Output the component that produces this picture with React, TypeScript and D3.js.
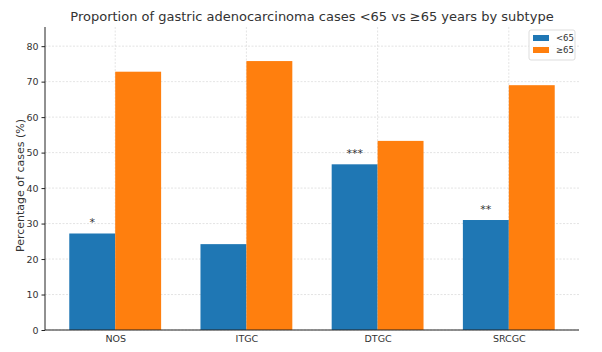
import { useEffect, useRef } from "react"
import * as d3 from "d3"

const subtypes = ["NOS", "ITGC", "DTGC", "SRCGC"]
const under65 = [27.2, 24.2, 46.7, 31.0]
const over65 = [72.8, 75.8, 53.3, 69.0]
const stars = ["*", "", "***", "**"]
const yTicks = [0, 10, 20, 30, 40, 50, 60, 70, 80]
const seriesNames = ["<65", "≥65"]

const W = 602
const H = 352
const margin = { top: 27, right: 23, bottom: 22, left: 45 }
const font = "DejaVu Sans, sans-serif"
const BLUE = "#1f77b4"
const ORANGE = "#ff7f0e"

export default function App() {
  const svgRef = useRef<SVGSVGElement>(null)

  useEffect(() => {
    if (!svgRef.current) return
    const svg = d3.select(svgRef.current)
    svg.selectAll("*").remove()

    const width = W - margin.left - margin.right
    const height = H - margin.top - margin.bottom
    const g = svg.append("g").attr("transform", `translate(${margin.left},${margin.top})`)

    // matplotlib-style x: positions 0..3, bar width 0.35
    const barW = 0.35
    const x = d3.scaleLinear().domain([-0.535, 3.535]).range([0, width])
    const y = d3.scaleLinear().domain([0, 85.4]).range([height, 0])

    // grid
    g.selectAll("line.hgrid")
      .data(yTicks)
      .enter()
      .append("line")
      .attr("x1", 0)
      .attr("x2", width)
      .attr("y1", (d) => y(d))
      .attr("y2", (d) => y(d))
      .attr("stroke", "#d8d8d8")
      .attr("stroke-width", 0.7)
      .attr("stroke-dasharray", "2,1.5")

    g.selectAll("line.vgrid")
      .data(subtypes)
      .enter()
      .append("line")
      .attr("x1", (_, i) => x(i))
      .attr("x2", (_, i) => x(i))
      .attr("y1", 0)
      .attr("y2", height)
      .attr("stroke", "#d8d8d8")
      .attr("stroke-width", 0.7)
      .attr("stroke-dasharray", "2,1.5")

    // bars
    g.selectAll("rect.u")
      .data(under65)
      .enter()
      .append("rect")
      .attr("x", (_, i) => x(i - barW))
      .attr("width", x(barW) - x(0))
      .attr("y", (d) => y(d))
      .attr("height", (d) => height - y(d))
      .attr("fill", BLUE)

    g.selectAll("rect.o")
      .data(over65)
      .enter()
      .append("rect")
      .attr("x", (_, i) => x(i))
      .attr("width", x(barW) - x(0))
      .attr("y", (d) => y(d))
      .attr("height", (d) => height - y(d))
      .attr("fill", ORANGE)

    // significance stars
    g.selectAll("text.star")
      .data(under65)
      .enter()
      .append("text")
      .attr("x", (_, i) => x(i - barW / 2))
      .attr("y", (d) => y(d + 2))
      .attr("text-anchor", "middle")
      .attr("fill", "#333")
      .style("font-family", font)
      .style("font-size", "11px")
      .text((_, i) => stars[i])

    // axes
    const yAxis = g.append("g").call(d3.axisLeft(y).tickValues(yTicks).tickSize(3.5).tickPadding(3))
    const xAxis = g
      .append("g")
      .attr("transform", `translate(0,${height})`)
      .call(
        d3
          .axisBottom(x)
          .tickValues([0, 1, 2, 3])
          .tickFormat((d) => subtypes[d as number])
          .tickSize(0)
          .tickPadding(5)
      )
    for (const ax of [xAxis, yAxis]) {
      ax.select(".domain").attr("stroke", "#222").attr("stroke-width", 1)
      ax.selectAll("text").attr("fill", "#333").style("font-family", font).style("font-size", "9.5px")
      ax.selectAll("line").attr("stroke", "#222")
    }
    yAxis.select(".domain").attr("d", `M0,${height}V0`)
    xAxis.select(".domain").attr("d", `M0,0H${width}`)

    // y label
    g.append("text")
      .attr("transform", `translate(${-21},${height / 2 + 7}) rotate(-90)`)
      .attr("text-anchor", "middle")
      .attr("fill", "#333")
      .style("font-family", font)
      .style("font-size", "11px")
      .text("Percentage of cases (%)")

    // title
    svg
      .append("text")
      .attr("x", margin.left + width / 2)
      .attr("y", 21)
      .attr("text-anchor", "middle")
      .attr("fill", "#333")
      .style("font-family", font)
      .style("font-size", "13px")
      .text("Proportion of gastric adenocarcinoma cases <65 vs ≥65 years by subtype")

    // legend
    const lg = g.append("g").attr("transform", `translate(${width - 50},3)`)
    lg.append("rect")
      .attr("width", 46)
      .attr("height", 30)
      .attr("rx", 2)
      .attr("fill", "white")
      .attr("fill-opacity", 0.8)
      .attr("stroke", "#ddd")
    const colors = [BLUE, ORANGE]
    seriesNames.forEach((name, i) => {
      lg.append("rect")
        .attr("x", 4)
        .attr("y", 5 + i * 12)
        .attr("width", 16)
        .attr("height", 6)
        .attr("fill", colors[i])
      lg.append("text")
        .attr("x", 27)
        .attr("y", 11 + i * 12)
        .attr("fill", "#333")
        .style("font-family", font)
        .style("font-size", "8.5px")
        .text(name)
    })
  }, [])

  return (
    <div style={{ width: W, height: H, margin: -8 }}>
      <svg ref={svgRef} width={W} height={H} style={{ display: "block", background: "white" }} />
    </div>
  )
}
